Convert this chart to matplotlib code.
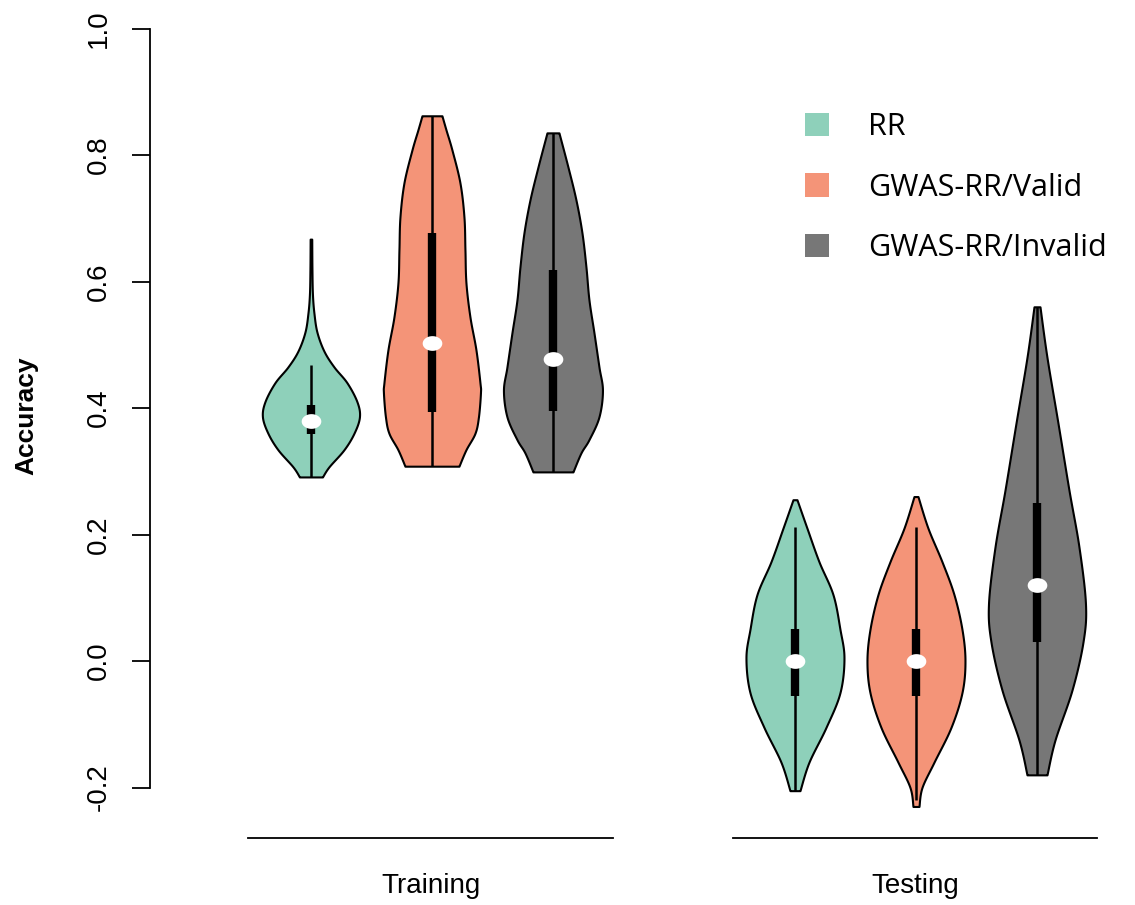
import numpy as np
import matplotlib.pyplot as plt
from matplotlib.patches import Patch
from matplotlib.path import Path

plt.rcParams['font.family'] = ['Liberation Sans', 'DejaVu Sans']

groups = ['Training', 'Testing']
methods = ['RR', 'GWAS-RR/Valid', 'GWAS-RR/Invalid']
colors = ['#8ed0ba', '#f49478', '#777777']
positions = [1, 2, 3, 5, 6, 7]

# violin outlines: accuracy levels and half widths (pixels, 121 px = 1 slot)
prof_y = [
    [0.291, 0.307, 0.334, 0.36, 0.386, 0.41, 0.44, 0.465, 0.49, 0.52, 0.55, 0.58, 0.62, 0.667],
    [0.308, 0.334, 0.36, 0.386, 0.424, 0.44, 0.492, 0.544, 0.598, 0.65, 0.702, 0.756, 0.808, 0.84, 0.862],
    [0.299, 0.329, 0.35, 0.386, 0.428, 0.465, 0.519, 0.571, 0.623, 0.677, 0.729, 0.781, 0.835],
    [-0.205, -0.16, -0.105, -0.05, 0.005, 0.05, 0.105, 0.157, 0.21, 0.255],
    [-0.23, -0.2, -0.16, -0.105, -0.05, 0.0, 0.05, 0.105, 0.157, 0.21, 0.26],
    [-0.18, -0.125, -0.046, 0.03, 0.09, 0.18, 0.27, 0.376, 0.48, 0.56],
]
prof_w = [
    [11.5, 18, 33, 43, 48.5, 46, 36, 23, 13, 6, 3, 1.5, 1, 0.8],
    [27, 34, 43, 46.5, 48.5, 48, 44, 38, 34, 33, 32, 28, 20, 14, 10],
    [20, 28, 36, 46, 49.5, 46, 41, 36, 33, 29, 23, 15, 6],
    [5, 14, 31, 45, 49, 45, 38, 24, 12, 2],
    [3, 6, 18, 35, 46, 49, 46, 38, 26, 12, 2],
    [10, 18, 35, 46, 48.5, 42, 32, 21, 10, 3],
]

# boxplot summaries
wlo = [0.291, 0.308, 0.299, -0.205, -0.22, -0.18]
whi = [0.468, 0.862, 0.835, 0.212, 0.212, 0.56]
q1 = [0.359, 0.394, 0.395, -0.055, -0.055, 0.03]
q3 = [0.405, 0.677, 0.618, 0.05, 0.05, 0.25]
med = [0.379, 0.503, 0.477, 0.0, 0.0, 0.12]


def smooth_outline(ys, ws, n=20):
    # catmull-rom curve through the read points, so the outline has no corners
    pts = np.column_stack([ys, ws])
    pts = np.vstack([pts[0], pts, pts[-1]])
    out = []
    u = np.linspace(0, 1, n, endpoint=False)[:, None]
    for j in range(1, len(pts) - 2):
        p0, p1, p2, p3 = pts[j-1], pts[j], pts[j+1], pts[j+2]
        c = 0.5 * ((2*p1) + (-p0 + p2)*u + (2*p0 - 5*p1 + 4*p2 - p3)*u**2
                   + (-p0 + 3*p1 - 3*p2 + p3)*u**3)
        out.append(c)
    out.append(pts[-2][None, :])
    out = np.vstack(out)
    return out[:, 0], np.clip(out[:, 1], 0, None)


# slightly flattened dot for the medians
t = np.linspace(0, 2*np.pi, 60)
ellipse = Path(np.column_stack([np.cos(t), 0.75*np.sin(t)]), closed=True)

fig = plt.figure(figsize=(11.35, 9.05), dpi=100)
ax = fig.add_axes([150/1135, 1 - 850.75/905, 985/1135, 822.25/905])

for i, pos in enumerate(positions):
    yy, ww = smooth_outline(np.array(prof_y[i]), np.array(prof_w[i]) / 121.0)
    ax.fill_betweenx(yy, pos - ww, pos + ww, facecolor=colors[i % 3],
                     edgecolor='black', linewidth=1.5, zorder=2)
    ax.vlines(pos, wlo[i], whi[i], color='black', linewidth=1.8, zorder=3)
    ax.vlines(pos, q1[i], q3[i], color='black', linewidth=6, zorder=4)
    ax.scatter(pos, med[i], s=200, marker=ellipse, color='white', zorder=5, linewidths=0)

ax.set_xlim(-0.33, 7.81)
ax.set_ylim(-0.3, 1.0)
for s in ['top', 'right', 'bottom']:
    ax.spines[s].set_visible(False)
ax.spines['left'].set_bounds(-0.2, 1.0)
ax.spines['left'].set_linewidth(1.3)
ax.set_xticks([])
ax.set_yticks([-0.2, 0.0, 0.2, 0.4, 0.6, 0.8, 1.0])
ax.set_yticklabels(['-0.2', '0.0', '0.2', '0.4', '0.6', '0.8', '1.0'],
                   rotation=90, va='center', ha='center', fontsize=20)
ax.tick_params(axis='y', length=13, width=1.3, pad=24)

ax.set_ylabel('Accuracy', fontsize=19, fontweight='bold')
ax.yaxis.set_label_coords(-0.113, 0.529)

# group axis lines and labels
for g, (a, b) in enumerate([(0.48, 3.5), (4.49, 7.5)]):
    ax.plot([a, b], [-0.28, -0.28], color='black', linewidth=1.3, clip_on=False)
    ax.text((a + b) / 2, -0.356, groups[g], ha='center', va='center', fontsize=20, clip_on=False)

handles = [Patch(facecolor=c, edgecolor='none') for c in colors]
ax.legend(handles, methods, loc='upper left', bbox_to_anchor=(805/1135, 1 - 112/905),
          bbox_transform=fig.transFigure, frameon=False,
          handlelength=0.8, handleheight=0.8, handletextpad=1.25,
          labelspacing=1.0, borderpad=0, borderaxespad=0,
          prop={'family': 'Open Sans', 'size': 22})

fig.savefig('out.png', dpi=100)
